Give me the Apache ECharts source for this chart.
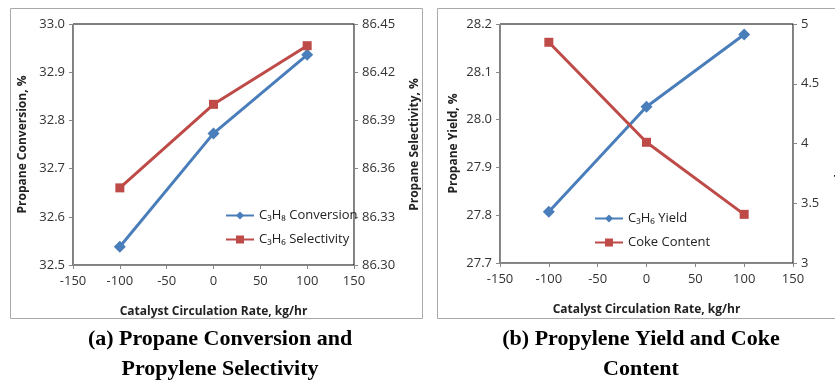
<!DOCTYPE html>
<html>
<head>
<meta charset="utf-8">
<script src="https://cdn.jsdelivr.net/npm/echarts@6/dist/echarts.min.js"></script>
<style>
  html, body { margin: 0; padding: 0; background: #fff; }
  #chart { width: 835px; height: 381px; }
</style>
</head>
<body>
<div id="chart"></div>
<script>
// catalyst circulation rate, kg/hr
var rates = [-100, 0, 100];

// panel (a)
var conversion = [32.538, 32.773, 32.936];     // left axis, %
var selectivity = [86.348, 86.400, 86.4365];   // right axis, %

// panel (b)
var yieldC3H6 = [27.807, 28.027, 28.178];      // left axis, %
var cokeContent = [4.847, 4.01, 3.407];        // right axis

var blue = '#4a7ebb';
var red = '#be4b48';
var labelFont = '"Open Sans", "Liberation Sans", sans-serif';

function pairs(xs, ys) {
    return xs.map(function (x, i) { return [x, ys[i]]; });
}

function xAxisFor(idx) {
    return {
        type: 'value',
        gridIndex: idx,
        min: -150, max: 150, interval: 50,
        name: 'Catalyst Circulation Rate, kg/hr',
        nameLocation: 'middle',
        nameGap: 41,
        nameTextStyle: { color: '#222', fontSize: 12, fontWeight: 'bold', fontFamily: labelFont },
        axisLine: { show: true, onZero: false, lineStyle: { color: '#888', width: 1 } },
        axisTick: { show: true, inside: false, length: 4, lineStyle: { color: '#888' } },
        axisLabel: { color: '#333', fontSize: 13, margin: 10, fontFamily: labelFont },
        splitLine: { show: false }
    };
}

function yAxisFor(idx, pos, min, max, step, name, gap, fmt) {
    return {
        type: 'value',
        gridIndex: idx,
        position: pos,
        min: min, max: max, interval: step,
        name: name,
        nameLocation: 'middle',
        nameGap: gap,
        nameTextStyle: { color: '#222', fontSize: 12, fontWeight: 'bold', fontFamily: labelFont },
        axisLine: { show: true, onZero: false, lineStyle: { color: '#888', width: 1 } },
        axisTick: { show: true, length: 4, lineStyle: { color: '#888' } },
        axisLabel: { color: '#333', fontSize: 13, margin: 8, fontFamily: labelFont, formatter: fmt },
        splitLine: { show: false }
    };
}

function lineSeries(name, x, y, yIdx, xIdx, color, symbol, size) {
    return {
        name: name,
        type: 'line',
        xAxisIndex: xIdx,
        yAxisIndex: yIdx,
        data: pairs(x, y),
        symbol: symbol,
        symbolSize: size,
        lineStyle: { color: color, width: 3 },
        itemStyle: { color: color },
        animation: false
    };
}

var chart = echarts.init(document.getElementById('chart'));

var option = {
    backgroundColor: '#fff',
    animation: false,
    title: [
        {
            text: '(a) Propane Conversion and\nPropylene Selectivity',
            left: 215, top: 319, textAlign: 'center',
            textStyle: { fontFamily: '"Liberation Serif", serif', fontSize: 22, fontWeight: 'bold', color: '#000', lineHeight: 30 }
        },
        {
            text: '(b) Propylene Yield and Coke\nContent',
            left: 636, top: 319, textAlign: 'center',
            textStyle: { fontFamily: '"Liberation Serif", serif', fontSize: 22, fontWeight: 'bold', color: '#000', lineHeight: 30 }
        }
    ],
    graphic: [
        { type: 'rect', shape: { x: 10.5, y: 8.5, width: 412, height: 310 }, style: { fill: 'none', stroke: '#aaa', lineWidth: 1 }, z: -1 },
        { type: 'rect', shape: { x: 437.5, y: 8.5, width: 410, height: 310 }, style: { fill: 'none', stroke: '#aaa', lineWidth: 1 }, z: -1 }
    ],
    legend: [
        {
            data: ['C₃H₈ Conversion', 'C₃H₆ Selectivity'],
            orient: 'vertical', left: 220, top: 204, itemGap: 11,
            itemWidth: 28, itemHeight: 10,
            textStyle: { color: '#222', fontSize: 13, fontFamily: labelFont }
        },
        {
            data: ['C₃H₆ Yield', 'Coke Content'],
            orient: 'vertical', left: 589, top: 207, itemGap: 11,
            itemWidth: 28, itemHeight: 10,
            textStyle: { color: '#222', fontSize: 13, fontFamily: labelFont }
        }
    ],
    grid: [
        { left: 73, right: 481, top: 24, bottom: 116, outerBoundsMode: 'none', show: true, borderColor: '#000', borderWidth: 1, backgroundColor: 'transparent' },
        { left: 500, right: 42, top: 24, bottom: 118, outerBoundsMode: 'none', show: true, borderColor: '#000', borderWidth: 1, backgroundColor: 'transparent' }
    ],
    xAxis: [xAxisFor(0), xAxisFor(1)],
    yAxis: [
        yAxisFor(0, 'left', 32.5, 33.0, 0.1, 'Propane Conversion, %', 44, function (v) { return v.toFixed(1); }),
        yAxisFor(0, 'right', 86.30, 86.45, 0.03, 'Propane Selectivity, %', 55, function (v) { return v.toFixed(2); }),
        yAxisFor(1, 'left', 27.7, 28.2, 0.1, 'Propane Yield, %', 40, function (v) { return v.toFixed(1); }),
        yAxisFor(1, 'right', 3, 5, 0.5, 'Coke Content, %', 42, function (v) { return String(v); })
    ],
    series: [
        lineSeries('C₃H₈ Conversion', rates, conversion, 0, 0, blue, 'diamond', 12),
        lineSeries('C₃H₆ Selectivity', rates, selectivity, 1, 0, red, 'rect', 9),
        lineSeries('C₃H₆ Yield', rates, yieldC3H6, 2, 1, blue, 'diamond', 12),
        lineSeries('Coke Content', rates, cokeContent, 3, 1, red, 'rect', 9)
    ]
};

chart.setOption(option);
</script>
</body>
</html>
